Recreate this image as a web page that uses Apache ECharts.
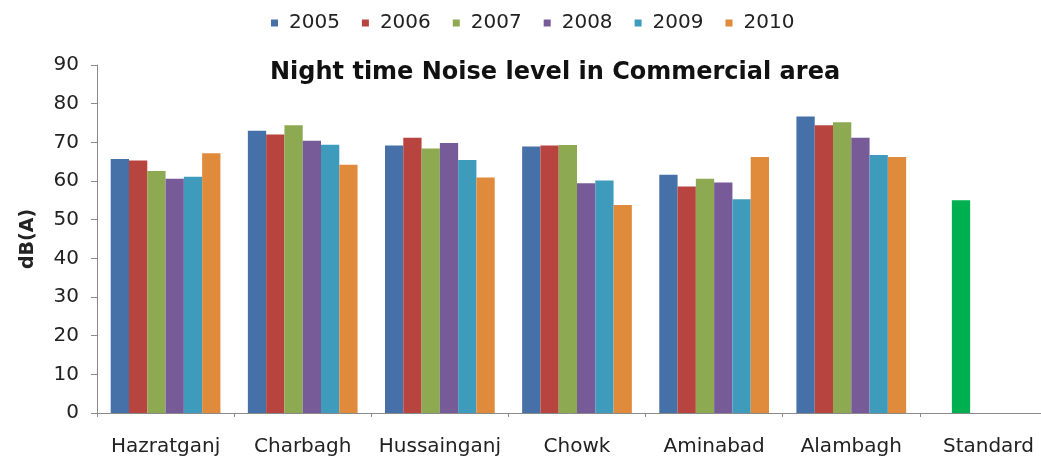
<!DOCTYPE html>
<html>
<head>
<meta charset="utf-8">
<script src="https://cdn.jsdelivr.net/npm/echarts@6/dist/echarts.min.js"></script>
<style>
  html, body { margin: 0; padding: 0; background: #fff; }
  #chart { width: 1041px; height: 463px; }
</style>
</head>
<body>
<div id="chart"></div>
<script>
const areas = ['Hazratganj', 'Charbagh', 'Hussainganj', 'Chowk', 'Aminabad', 'Alambagh', 'Standard']
const years = ['2005', '2006', '2007', '2008', '2009', '2010']
// dB(A) per year, one value per area (Standard has no yearly value)
const v2005 = [65.7, 73.0, 69.2, 68.9, 61.6, 76.7, null]
const v2006 = [65.3, 72.0, 71.2, 69.2, 58.6, 74.4, null]
const v2007 = [62.6, 74.4, 68.4, 69.3, 60.6, 75.2, null]
const v2008 = [60.6, 70.4, 69.8, 59.4, 59.6, 71.2, null]
const v2009 = [61.1, 69.4, 65.4, 60.1, 55.3, 66.7, null]
const v2010 = [67.2, 64.2, 60.9, 53.8, 66.2, 66.2, null]
const standard = [null, null, null, null, null, null, 55]
const yTicks = [0, 10, 20, 30, 40, 50, 60, 70, 80, 90]

const yearData = [v2005, v2006, v2007, v2008, v2009, v2010]
const colors = ['#4670A8', '#B8443F', '#8DAA52', '#775A98', '#3F9BBC', '#E08A3C']
const font = 'DejaVu Sans'

const chart = echarts.init(document.getElementById('chart'))

const series = years.map((y, i) => ({
  name: y,
  type: 'bar',
  // 2006 shares its slot with the Standard bar
  stack: 'slot' + i,
  barGap: 0,
  barCategoryGap: '20%',
  itemStyle: { color: colors[i] },
  data: yearData[i]
}))
series.push({
  name: 'Standard',
  type: 'bar',
  stack: 'slot1',
  itemStyle: { color: '#00B050' },
  data: standard
})

chart.setOption({
  animation: false,
  title: {
    text: 'Night time Noise level in Commercial area',
    left: 265,
    top: 56,
    textStyle: { fontFamily: font, fontSize: 24, fontWeight: 'bold', color: '#111' }
  },
  legend: {
    data: years,
    left: 266,
    top: 8,
    icon: 'rect',
    itemWidth: 7,
    itemHeight: 7,
    itemGap: 22,
    textStyle: { fontFamily: font, fontSize: 20, color: '#222', padding: [0, 0, 0, 6] }
  },
  grid: {
    left: 97,
    right: -16,
    top: 65,
    bottom: 50,
    outerBoundsMode: 'none'
  },
  xAxis: {
    type: 'category',
    data: areas,
    axisLine: { lineStyle: { color: '#8a8a8a', width: 1 } },
    axisTick: { show: true, length: 4, lineStyle: { color: '#8a8a8a' } },
    axisLabel: { interval: 0, fontFamily: font, fontSize: 20, color: '#222', margin: 24 }
  },
  yAxis: {
    type: 'value',
    min: yTicks[0],
    max: yTicks[yTicks.length - 1],
    interval: 10,
    name: 'dB(A)',
    nameLocation: 'middle',
    nameGap: 59,
    nameTextStyle: { fontFamily: font, fontSize: 19, fontWeight: 'bold', color: '#222' },
    splitLine: { show: false },
    axisLine: { show: true, lineStyle: { color: '#8a8a8a', width: 1 } },
    axisTick: { show: true, length: 6, lineStyle: { color: '#8a8a8a' } },
    axisLabel: { fontFamily: font, fontSize: 20, color: '#222', margin: 18 }
  },
  series: series
})
</script>
</body>
</html>
